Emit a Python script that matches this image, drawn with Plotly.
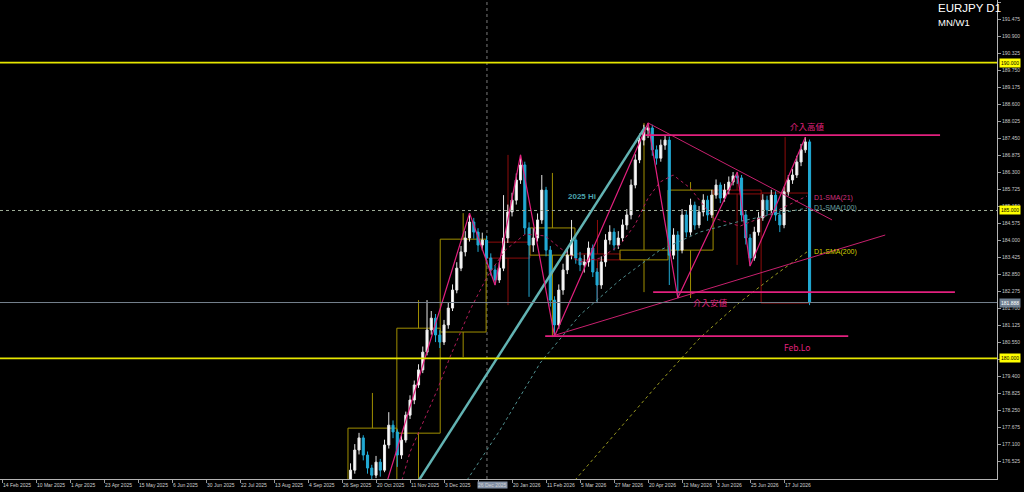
import plotly.graph_objects as go

# ---------------- DATA ----------------
first_bar = 82
opens = [175.90, 176.22, 176.90, 177.31, 176.73, 176.29, 176.05, 176.49, 176.22, 177.07,
         177.74, 177.51, 176.73, 177.24, 178.08, 178.59, 179.10, 179.61, 180.21, 180.96,
         181.36, 180.79, 180.55, 181.13, 181.70, 182.31, 183.05, 183.60, 184.07, 184.61,
         184.27, 183.83, 184.00, 183.39, 182.99, 182.65, 183.05, 184.07, 184.95, 185.35,
         186.03, 186.54, 184.41, 183.83, 184.07, 184.68, 185.69, 183.66, 181.97, 181.13,
         182.31, 182.99, 183.49, 184.00, 183.39, 183.16, 183.26, 183.73, 182.92, 182.48,
         183.26, 184.00, 184.27, 183.83, 184.07, 184.51, 184.85, 185.86, 186.71, 187.38,
         187.72, 187.79, 187.05, 186.77, 187.21, 187.38, 183.49, 184.17, 183.66, 184.85,
         184.27, 185.18, 184.51, 184.95, 185.35, 184.85, 185.52, 185.86, 185.42, 185.69,
         185.96, 186.17, 186.10, 184.85, 184.07, 183.39, 184.27, 184.75, 185.35, 185.02,
         185.52, 184.85, 184.51, 185.63, 186.03, 186.20, 186.64, 187.05, 187.32]
highs = [176.45, 177.10, 177.48, 177.40, 176.85, 176.40, 176.70, 176.60, 177.25, 178.18,
         177.90, 177.60, 177.40, 178.20, 178.75, 179.25, 179.80, 180.40, 181.97, 181.60,
         181.50, 180.95, 181.30, 181.90, 182.50, 183.25, 183.80, 184.30, 184.91, 184.75,
         184.40, 184.25, 184.15, 183.55, 183.15, 183.25, 185.52, 185.20, 185.60, 186.25,
         186.88, 186.65, 184.60, 184.40, 184.90, 186.20, 185.80, 183.80, 182.10, 182.50,
         183.20, 183.70, 184.68, 184.15, 183.60, 183.50, 183.95, 183.85, 183.05, 183.45,
         184.20, 184.50, 184.40, 184.30, 184.70, 185.05, 186.05, 186.90, 187.60, 187.90,
         187.96, 187.90, 187.20, 187.40, 187.55, 187.50, 184.40, 184.30, 185.05, 185.00,
         185.40, 185.30, 185.15, 185.55, 185.50, 185.70, 186.05, 185.95, 185.90, 186.15,
         186.30, 186.30, 186.20, 185.00, 184.20, 184.45, 184.95, 185.55, 185.50, 185.70,
         185.65, 185.00, 185.80, 186.20, 186.40, 186.85, 187.25, 187.48, 187.40]
lows = [175.70, 176.10, 176.75, 176.55, 176.10, 175.85, 175.95, 176.00, 176.15, 176.95,
        177.30, 176.33, 176.60, 177.15, 177.95, 178.45, 179.00, 179.50, 180.10, 180.80,
        180.55, 180.35, 180.45, 181.00, 181.60, 182.20, 182.95, 183.45, 183.95, 184.05,
        183.60, 183.65, 183.20, 182.80, 182.48, 182.55, 182.95, 183.90, 184.80, 185.20,
        185.90, 184.20, 182.08, 183.60, 183.95, 184.55, 183.45, 181.75, 180.75, 181.00,
        182.15, 182.85, 183.35, 183.20, 182.95, 182.90, 183.10, 182.75, 181.87, 182.35,
        183.10, 183.85, 183.65, 183.70, 183.95, 184.35, 184.70, 185.75, 186.60, 187.20,
        187.45, 186.85, 186.55, 186.65, 187.05, 182.48, 183.35, 182.04, 183.55, 184.10,
        184.15, 184.35, 184.40, 184.80, 184.65, 184.75, 185.40, 185.25, 185.30, 185.55,
        185.85, 185.90, 184.65, 183.85, 183.12, 183.30, 184.15, 184.65, 184.85, 184.90,
        184.65, 184.27, 184.40, 185.50, 185.90, 186.10, 186.50, 186.95, 181.80]
closes = [176.22, 176.90, 177.31, 176.73, 176.29, 176.05, 176.49, 176.22, 177.07, 177.74,
          177.51, 176.73, 177.24, 178.08, 178.59, 179.10, 179.61, 180.21, 180.96, 181.36,
          180.79, 180.55, 181.13, 181.70, 182.31, 183.05, 183.60, 184.07, 184.61, 184.27,
          183.83, 184.00, 183.39, 182.99, 182.65, 183.05, 184.07, 184.95, 185.35, 186.03,
          186.54, 184.41, 183.83, 184.07, 184.68, 185.69, 183.66, 181.97, 181.13, 182.31,
          182.99, 183.49, 184.00, 183.39, 183.16, 183.26, 183.73, 182.92, 182.48, 183.26,
          184.00, 184.27, 183.83, 184.07, 184.51, 184.85, 185.86, 186.71, 187.38, 187.72,
          187.79, 187.05, 186.77, 187.21, 187.38, 183.49, 184.17, 183.66, 184.85, 184.27,
          185.18, 184.51, 184.95, 185.35, 184.85, 185.52, 185.86, 185.42, 185.69, 185.96,
          186.17, 186.10, 184.85, 184.07, 183.39, 184.27, 184.75, 185.35, 185.02, 185.52,
          184.85, 184.51, 185.63, 186.03, 186.20, 186.64, 187.05, 187.32, 181.89]

date_labels = ["14 Feb 2025", "10 Mar 2025", "1 Apr 2025", "23 Apr 2025", "15 May 2025",
               "6 Jun 2025", "30 Jun 2025", "22 Jul 2025", "13 Aug 2025", "4 Sep 2025",
               "26 Sep 2025", "20 Oct 2025", "11 Nov 2025", "3 Dec 2025", "26 Dec 2025",
               "20 Jan 2026", "11 Feb 2026", "5 Mar 2026", "27 Mar 2026", "20 Apr 2026",
               "12 May 2026", "3 Jun 2026", "25 Jun 2026", "17 Jul 2026"]
bars_per_label = 8
highlight_date = "26 Dec 2025"

price_ticks = [192.050, 191.475, 190.900, 190.325, 189.750, 189.175, 188.600, 188.025,
               187.450, 186.875, 186.300, 185.725, 185.150, 184.575, 184.000, 183.425,
               182.850, 182.275, 181.700, 181.125, 180.550, 179.975, 179.400, 178.825,
               178.250, 177.675, 177.100, 176.525]

yellow_levels = [190.000, 180.000]
round_level = 185.000
current_price = 181.888

# Moving averages
sma21_x = [94.1, 96.0, 102.4, 105.4, 110.1, 114.1, 118.4, 123.1, 127.8, 131.3, 136.0, 140.7,
           145.4, 148.9, 152.0, 154.8, 157.9, 161.9, 167.3, 173.6, 180.7, 189.4]
sma21_y = [175.88, 176.83, 178.93, 180.04, 181.63, 182.75, 183.66, 184.20, 184.14, 183.73, 183.26, 183.39,
           183.83, 184.51, 185.42, 185.96, 186.20, 185.76, 184.75, 184.47, 184.88, 185.49]
sma100_x = [109.4, 117.2, 126.6, 136.0, 145.4, 154.8, 164.2, 172.9, 180.7, 189.4]
sma100_y = [175.88, 177.58, 179.84, 181.47, 182.65, 183.66, 184.27, 184.61, 184.85, 185.08]
sma200_x = [134.8, 145.4, 154.8, 164.2, 173.6, 181.9, 189.4]
sma200_y = [175.88, 177.64, 179.20, 180.69, 181.90, 182.82, 183.60]

# ZigZag pivots
zz_x = [88.9, 110, 116, 122, 130, 152, 159, 173, 176, 189]
zz_y = [175.04, 184.91, 182.48, 186.88, 180.75, 187.96, 182.04, 186.30, 183.12, 187.48]

# Triangle trend lines
tri_upper_x = [152.0, 195.3]
tri_upper_y = [187.96, 184.68]
tri_lower_x = [129.4, 207.8]
tri_lower_y = [180.75, 184.17]

# Teal "2025 Hi" line
hi_line_x = [93.6, 151.3]
hi_line_y = [174.87, 187.82]

# Horizontal marked levels (label, price, from, to)
mark_names = ["介入高値", "介入安値", "Feb.Lo"]
mark_prices = [187.55, 182.24, 180.75]
mark_x0 = [151.3, 153.2, 127.8]
mark_x1 = [220.7, 224.2, 199.1]
mark_label_x = [189.4, 166.6, 187.1]
mark_label_y = [187.86, 181.90, 180.38]

# Monthly candles drawn as boxes
mn_x0 = [81.4, 92.9, 103.1, 113.9, 124.2, 134.8, 145.4, 156.7, 167.3, 178.6]
mn_x1 = [92.9, 103.1, 113.9, 124.2, 134.8, 145.4, 156.7, 167.3, 178.6, 189.9]
mn_open = [174.50, 177.47, 180.89, 183.93, 183.49, 183.53, 183.33, 183.66, 185.69, 185.59]
mn_close = [177.64, 181.02, 184.03, 183.39, 184.41, 183.33, 183.66, 185.69, 185.56, 181.87]
mn_high = [178.83, 181.97, 184.91, 186.88, 186.27, 184.68, 187.96, 185.96, 186.30, 187.48]
mn_low = [174.00, 175.70, 180.04, 181.80, 180.72, 181.87, 182.24, 182.04, 183.16, 181.87]

separator_bar = 114.1

# ---------------- FIGURE ----------------
PINK = "#e2207e"
FONT = "Liberation Sans"
fig = go.Figure()

# monthly boxes
for i in range(len(mn_x0)):
    col = "#a08f00" if mn_close[i] >= mn_open[i] else "#8e0c0c"
    top = max(mn_open[i], mn_close[i])
    bot = min(mn_open[i], mn_close[i])
    mid = (mn_x0[i] + mn_x1[i]) / 2
    fig.add_shape(type="rect", xref="x", yref="y", x0=mn_x0[i], x1=mn_x1[i], y0=bot, y1=top,
                  line=dict(color=col, width=1), fillcolor="rgba(0,0,0,0)", layer="below")
    fig.add_shape(type="line", xref="x", yref="y", x0=mid, x1=mid, y0=top, y1=mn_high[i],
                  line=dict(color=col, width=1), layer="below")
    fig.add_shape(type="line", xref="x", yref="y", x0=mid, x1=mid, y0=bot, y1=mn_low[i],
                  line=dict(color=col, width=1), layer="below")

# vertical separator
fig.add_shape(type="line", xref="x", yref="paper", x0=separator_bar, x1=separator_bar, y0=0, y1=1,
              line=dict(color="#7a7a7a", width=1, dash="dot"), layer="below")

# horizontal levels
for lv in yellow_levels:
    fig.add_shape(type="line", xref="paper", yref="y", x0=0, x1=1, y0=lv, y1=lv,
                  line=dict(color="#e6e600", width=1.6))
fig.add_shape(type="line", xref="paper", yref="y", x0=0, x1=1, y0=round_level, y1=round_level,
              line=dict(color="#9fae98", width=1, dash="dot"))
fig.add_shape(type="line", xref="paper", yref="y", x0=0, x1=1, y0=current_price, y1=current_price,
              line=dict(color="#75828e", width=1))

# candles
xs = [first_bar + k for k in range(len(closes))]
fig.add_trace(go.Candlestick(
    x=xs, open=opens, high=highs, low=lows, close=closes,
    increasing=dict(line=dict(color="#e6e6e6", width=1), fillcolor="#ffffff"),
    decreasing=dict(line=dict(color="#22aad4", width=1), fillcolor="#22aad4"),
    whiskerwidth=0, hoverinfo="skip", showlegend=False))

# SMAs
fig.add_trace(go.Scatter(x=sma21_x, y=sma21_y, mode="lines", line=dict(color="#b01c58", width=1, dash="dot"),
                         hoverinfo="skip", showlegend=False))
fig.add_trace(go.Scatter(x=sma100_x, y=sma100_y, mode="lines", line=dict(color="#4f8f8f", width=1, dash="dot"),
                         hoverinfo="skip", showlegend=False))
fig.add_trace(go.Scatter(x=sma200_x, y=sma200_y, mode="lines", line=dict(color="#9a9a20", width=1, dash="dot"),
                         hoverinfo="skip", showlegend=False))

# teal line
fig.add_trace(go.Scatter(x=hi_line_x, y=hi_line_y, mode="lines", line=dict(color="#62b3b3", width=2.5),
                         hoverinfo="skip", showlegend=False))

# zigzag & triangle
fig.add_trace(go.Scatter(x=zz_x, y=zz_y, mode="lines", line=dict(color=PINK, width=1.2),
                         hoverinfo="skip", showlegend=False))
fig.add_trace(go.Scatter(x=tri_upper_x, y=tri_upper_y, mode="lines", line=dict(color="#c8206e", width=1),
                         hoverinfo="skip", showlegend=False))
fig.add_trace(go.Scatter(x=tri_lower_x, y=tri_lower_y, mode="lines", line=dict(color="#c8206e", width=1),
                         hoverinfo="skip", showlegend=False))

# marked horizontal segments
for i in range(len(mark_names)):
    fig.add_trace(go.Scatter(x=[mark_x0[i], mark_x1[i]], y=[mark_prices[i], mark_prices[i]], mode="lines",
                             line=dict(color=PINK, width=1.6), hoverinfo="skip", showlegend=False))
    fig.add_annotation(x=mark_label_x[i], y=mark_label_y[i], xref="x", yref="y", text=mark_names[i],
                       showarrow=False, xanchor="center", yanchor="middle",
                       font=dict(family="Noto Sans CJK JP, " + FONT, size=8.5, color=PINK))

# SMA labels
sma_labels = ["D1-SMA(21)", "D1-SMA(100)", "D1-SMA(200)"]
sma_label_y = [185.42, 185.08, 183.60]
sma_label_col = ["#d0307e", "#6aa3a3", "#d4d400"]
for t, yv, c in zip(sma_labels, sma_label_y, sma_label_col):
    fig.add_annotation(x=190.6, y=yv, xref="x", yref="y", text=t, showarrow=False,
                       xanchor="left", yanchor="middle", font=dict(family=FONT, size=7, color=c))

fig.add_annotation(x=136.5, y=185.49, xref="x", yref="y", text="<b>2025 Hi</b>", showarrow=False,
                   xanchor="center", yanchor="middle", font=dict(family=FONT, size=8, color="#4aa3ad"))

# title
fig.add_annotation(x=936 / 997, y=1.0, xref="paper", yref="paper", text="EURJPY D1", showarrow=False,
                   xanchor="left", yanchor="top", yshift=0, font=dict(family=FONT, size=11.5, color="#ffffff"))
fig.add_annotation(x=936 / 997, y=1.0, xref="paper", yref="paper", text="MN/W1", showarrow=False,
                   xanchor="left", yanchor="top", yshift=-15, font=dict(family=FONT, size=9.5, color="#ffffff"))

# x labels
tick_pos = [k * bars_per_label for k in range(len(date_labels))]
for p, lab in zip(tick_pos, date_labels):
    hl = lab == highlight_date
    fig.add_annotation(x=p, y=0, xref="x", yref="paper", text=lab, showarrow=False,
                       xanchor="left", yanchor="top", yshift=-2, xshift=-1 if hl else 0,
                       bgcolor="#8391a6" if hl else "rgba(0,0,0,0)", borderpad=0,
                       font=dict(family=FONT, size=5, color="#d0d0d0"))

# y highlighted labels
hl_prices = [190.000, 185.000, 180.000, current_price]
hl_bg = ["#ffff00", "#ffff00", "#ffff00", "#6f7f90"]
hl_fg = ["#000000", "#000000", "#000000", "#ffffff"]
for p, bg, fg in zip(hl_prices, hl_bg, hl_fg):
    fig.add_annotation(x=1, y=p, xref="paper", yref="y", text=f"{p:.3f}", showarrow=False,
                       xanchor="left", yanchor="middle", xshift=2, bgcolor=bg, borderpad=1,
                       font=dict(family=FONT, size=5, color=fg))

fig.update_layout(
    width=1024, height=492, margin=dict(l=0, r=27, t=0, b=13),
    paper_bgcolor="#000000", plot_bgcolor="#000000", showlegend=False,
    xaxis=dict(range=[-0.47, 234.1], rangeslider=dict(visible=False), showgrid=False, zeroline=False,
               tickvals=tick_pos, ticktext=[""] * len(tick_pos), ticks="outside", ticklen=3,
               tickcolor="#9a9a9a", showline=True, linecolor="#b4b4b4", linewidth=1),
    yaxis=dict(side="right", range=[175.92, 192.118], tickvals=price_ticks,
               ticktext=[f"{v:.3f}" for v in price_ticks], ticks="outside", ticklen=3,
               tickcolor="#9a9a9a", tickfont=dict(family=FONT, size=5, color="#c8c8c8"),
               showgrid=False, zeroline=False, showline=True, linecolor="#b4b4b4", linewidth=1),
)

fig.write_html("out.html", config={"displayModeBar": False},
               post_script="document.body.style.margin='0';")
